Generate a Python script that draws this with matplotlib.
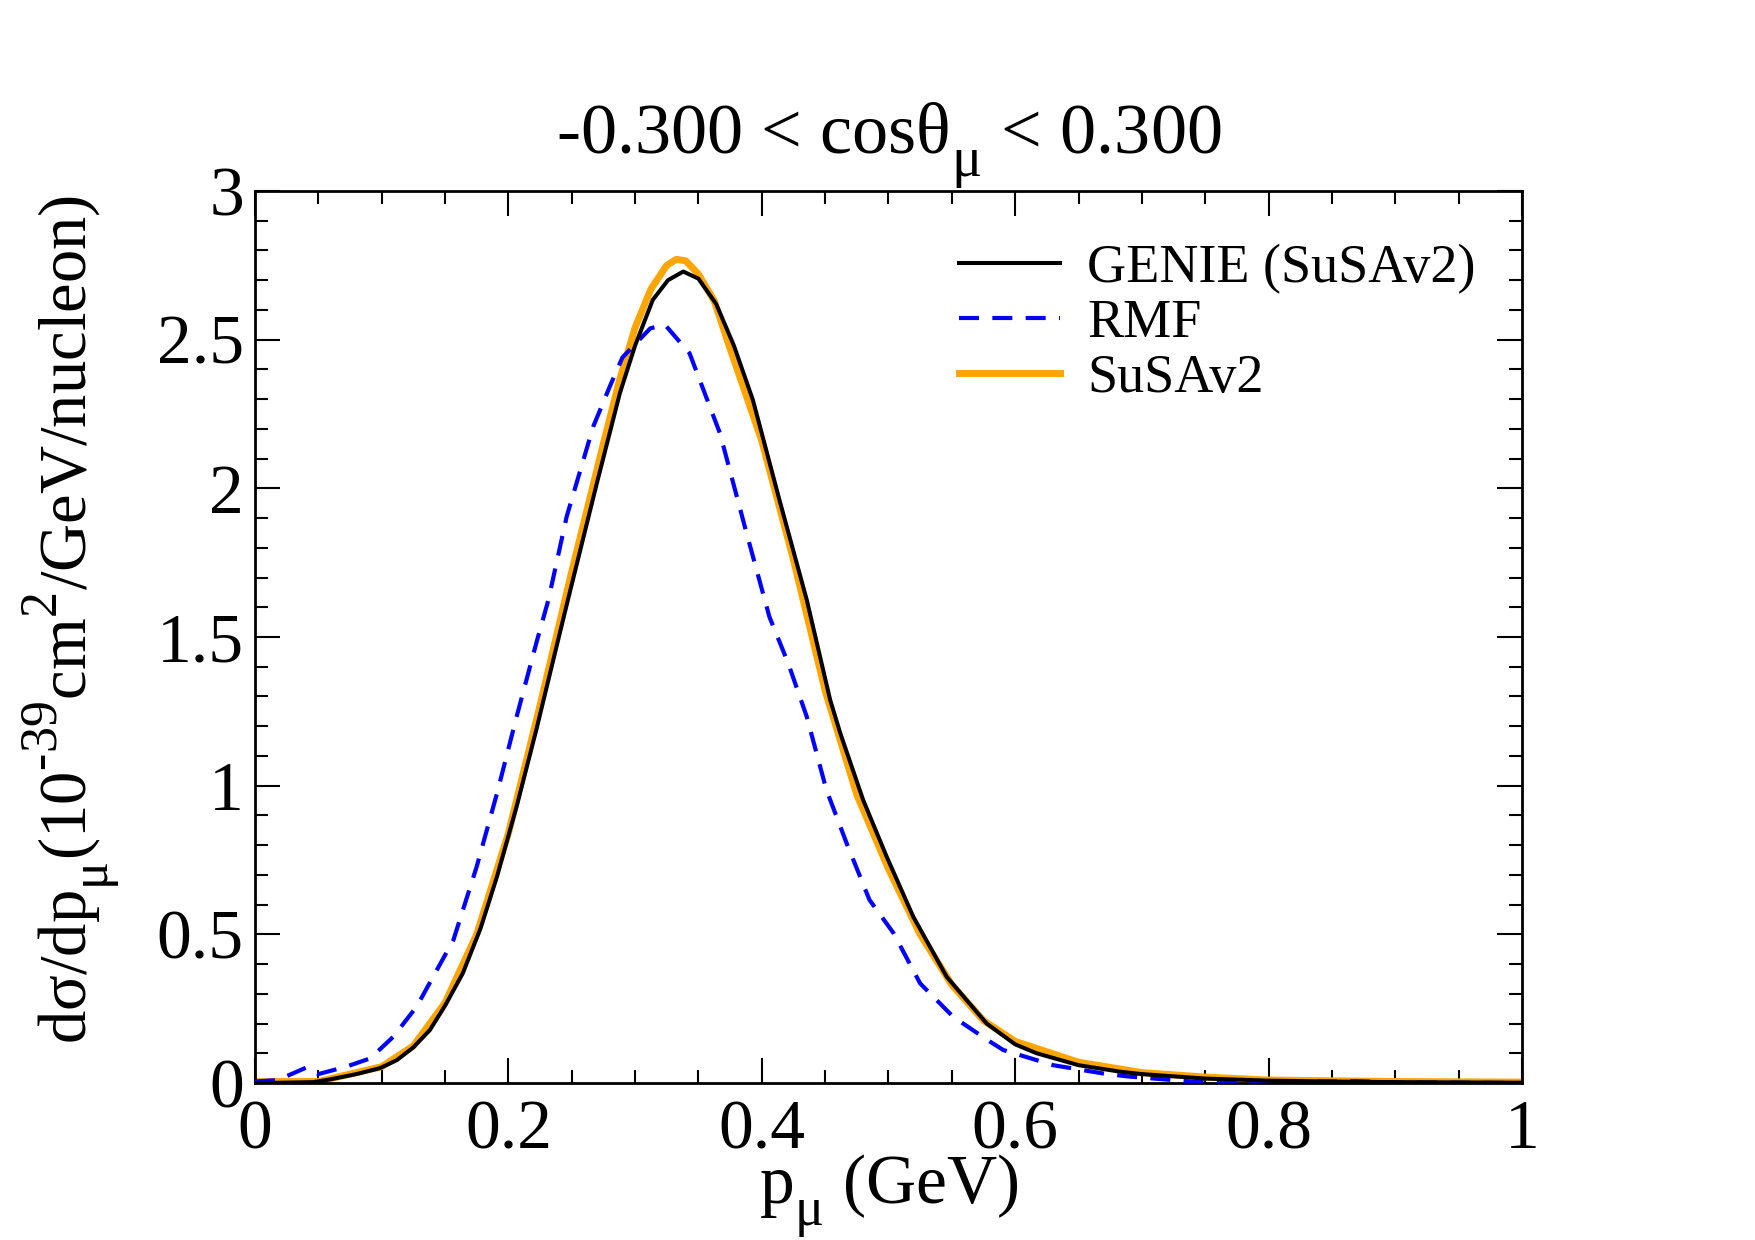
import numpy as np
import matplotlib
matplotlib.use("Agg")
import matplotlib.pyplot as plt
import matplotlib._mathtext as mt
from matplotlib.ticker import MultipleLocator, FuncFormatter

plt.rcParams['font.family'] = ['Liberation Serif', 'DejaVu Serif']
plt.rcParams['mathtext.fontset'] = 'custom'
plt.rcParams['mathtext.rm'] = 'Liberation Serif'
plt.rcParams['mathtext.it'] = 'Liberation Serif:italic'
# grace-like scripts: larger and further from the baseline
mt.SHRINK_FACTOR = 0.78
mt.FontConstantsBase.sub1 = 0.7
mt.FontConstantsBase.sup1 = 0.95

# GENIE (SuSAv2), black solid
p_genie = [0.0, 0.02, 0.046, 0.059, 0.08, 0.0987, 0.112, 0.125, 0.138, 0.15, 0.164,
           0.178, 0.191, 0.2065, 0.222, 0.238, 0.247, 0.27, 0.288, 0.3, 0.314, 0.326,
           0.338, 0.35, 0.364, 0.378, 0.393, 0.414, 0.4355, 0.454, 0.462, 0.48, 0.4986,
           0.5196, 0.546, 0.5775, 0.6, 0.617, 0.65, 0.683, 0.7, 0.75, 0.8, 0.85, 0.9,
           0.95, 1.0]
y_genie = [0.0, 0.001, 0.003, 0.012, 0.03, 0.05, 0.077, 0.12, 0.178, 0.26, 0.369,
           0.52, 0.694, 0.93, 1.187, 1.468, 1.625, 2.02, 2.32, 2.48, 2.634, 2.70,
           2.729, 2.705, 2.62, 2.48, 2.297, 1.96, 1.625, 1.288, 1.176, 0.952, 0.761,
           0.559, 0.357, 0.2, 0.13, 0.1, 0.06, 0.038, 0.03, 0.015, 0.008, 0.005, 0.003,
           0.002, 0.001]

# RMF, blue dashed
p_rmf = [0.0, 0.018, 0.041, 0.05, 0.072, 0.091, 0.109, 0.1276, 0.1566, 0.175, 0.191,
         0.2065, 0.222, 0.2316, 0.246, 0.267, 0.28, 0.29, 0.312, 0.3236, 0.343,
         0.367, 0.388, 0.406, 0.421, 0.4355, 0.451, 0.467, 0.485, 0.504, 0.525,
         0.551, 0.578, 0.5906, 0.63, 0.6695, 0.689, 0.739, 0.8, 0.87, 0.9, 1.0]
y_rmf = [0.005, 0.01, 0.053, 0.03, 0.055, 0.083, 0.155, 0.257, 0.481, 0.728, 0.974,
         1.232, 1.479, 1.625, 1.905, 2.208, 2.342, 2.44, 2.538, 2.55, 2.454,
         2.185, 1.849, 1.568, 1.41, 1.232, 0.986, 0.806, 0.616, 0.504, 0.335,
         0.223, 0.145, 0.111, 0.06, 0.032, 0.022, 0.005, 0.003, 0.006, 0.002, 0.0]

# SuSAv2, orange thick
p_susa = [0.0, 0.05, 0.1, 0.125, 0.15, 0.175, 0.2, 0.225, 0.25, 0.275, 0.2875, 0.3,
          0.3125, 0.325, 0.3325, 0.34, 0.35, 0.3625, 0.375, 0.4, 0.425, 0.45, 0.475,
          0.5, 0.525, 0.55, 0.575, 0.6, 0.65, 0.7, 0.75, 0.8, 0.9, 1.0]
y_susa = [0.005, 0.005, 0.055, 0.125, 0.27, 0.5, 0.84, 1.27, 1.72, 2.15, 2.36, 2.54,
          2.67, 2.75, 2.77, 2.765, 2.72, 2.63, 2.47, 2.16, 1.76, 1.32, 0.97,
          0.72, 0.5, 0.33, 0.21, 0.14, 0.07, 0.035, 0.02, 0.01, 0.005, 0.003]

labels = ["GENIE (SuSAv2)", "RMF", "SuSAv2"]


def main():
    fig = plt.figure(figsize=(17.55, 12.4), dpi=100)
    ax = fig.add_axes([0.1453, 0.1266, 0.7219, 0.7194])

    ax.plot(p_susa, y_susa, color='orange', lw=5, label=labels[2], zorder=2)
    ax.plot(p_rmf, y_rmf, color='blue', lw=3, dashes=(4.8, 3.2), label=labels[1], zorder=3)
    ax.plot(p_genie, y_genie, color='black', lw=2.9, label=labels[0], zorder=4)

    ax.set_xlim(0, 1)
    ax.set_ylim(0, 3)
    ax.xaxis.set_major_locator(MultipleLocator(0.2))
    ax.xaxis.set_minor_locator(MultipleLocator(0.05))
    ax.yaxis.set_major_locator(MultipleLocator(0.5))
    ax.yaxis.set_minor_locator(MultipleLocator(0.1))
    fmt = FuncFormatter(lambda v, pos: '%g' % v)
    ax.xaxis.set_major_formatter(fmt)
    ax.yaxis.set_major_formatter(fmt)
    ax.tick_params(which='both', direction='in', top=True, right=True, width=1.5)
    ax.tick_params(which='major', length=18, labelsize=50)
    ax.tick_params(axis='x', which='major', pad=12)
    ax.tick_params(axis='y', which='major', pad=8)
    ax.tick_params(which='minor', length=9.5)
    for s in ax.spines.values():
        s.set_linewidth(2)

    ax.set_title(r'-0.300 < cosθ$_{\mathregular{μ}}$ < 0.300', fontsize=52, pad=2)
    ax.set_xlabel(r'p$_{\mathregular{μ}}$ (GeV)', fontsize=50, labelpad=-8)
    ax.set_ylabel(r'dσ/dp$_{\mathregular{μ}}$(10$^{\mathregular{‐39}}$cm$^{\mathregular{2}}$/GeV/nucleon)',
                  fontsize=48)
    ax.yaxis.set_label_coords(-0.105, 0.52)

    handles, labs = ax.get_legend_handles_labels()
    order = [2, 1, 0]
    ax.legend([handles[i] for i in order], [labs[i] for i in order],
              loc='upper left', bbox_to_anchor=(0.556, 0.941), frameon=False,
              fontsize=39, handlelength=1.86, handletextpad=0.5,
              labelspacing=0.08, borderpad=0, borderaxespad=0)

    fig.savefig('out.png', dpi=100)


if __name__ == "__main__":
    main()
